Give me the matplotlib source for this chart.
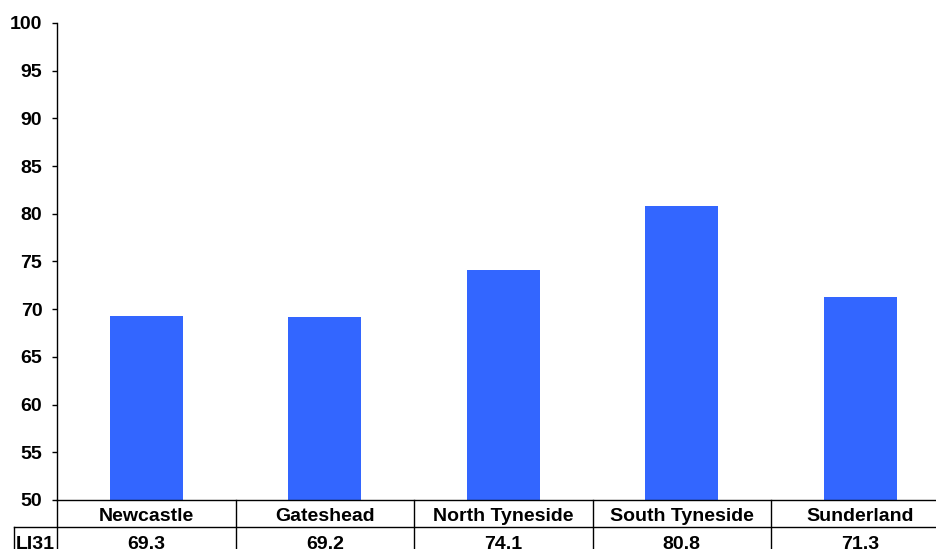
import matplotlib
matplotlib.use("Agg")
import matplotlib.pyplot as plt
from matplotlib.transforms import blended_transform_factory
from matplotlib.lines import Line2D

categories = ["Newcastle", "Gateshead", "North Tyneside", "South Tyneside", "Sunderland"]
values = [69.3, 69.2, 74.1, 80.8, 71.3]
series_name = "LI31"
yticks = [50, 55, 60, 65, 70, 75, 80, 85, 90, 95, 100]

plt.rcParams['font.family'] = ['Liberation Sans', 'DejaVu Sans']
plt.rcParams['font.weight'] = 'bold'

W, H = 937, 549
fig = plt.figure(figsize=(W / 100, H / 100), dpi=100)
ax = fig.add_axes([57 / W, 49 / H, 892.5 / W, 477 / H])

x = list(range(len(categories)))
ax.bar(x, values, width=0.41, color="#3366FF", bottom=0, zorder=2)
ax.set_xlim(-0.5, len(categories) - 0.5)
ax.set_ylim(50, 100)
ax.set_yticks(yticks)
ax.set_yticklabels([str(t) for t in yticks], fontsize=14, fontweight='bold')
ax.tick_params(axis='y', length=3.6, width=1, pad=7, direction='out')
ax.set_xticks([])
for s in ['top', 'right']:
    ax.spines[s].set_visible(False)
ax.spines['left'].set_linewidth(1)
ax.spines['bottom'].set_linewidth(1)

# Data table below the chart
ah = 477.0
r1 = -27 / ah
r2 = -70 / ah
tr = blended_transform_factory(ax.transData, ax.transAxes)
for i, (c, v) in enumerate(zip(categories, values)):
    ax.text(i, -21 / ah, c, transform=tr, ha='center', va='baseline',
            fontsize=14, fontweight='bold', clip_on=False)
    ax.text(i, -49 / ah, f"{v:.1f}", transform=tr, ha='center', va='baseline',
            fontsize=14, fontweight='bold', clip_on=False)
for b in range(len(categories) + 1):
    ax.add_line(Line2D([b - 0.5, b - 0.5], [0, r2], transform=tr,
                       color='black', lw=1, clip_on=False))
# horizontal line between rows, extending left to the row header
ax.add_line(Line2D([-43 / 892.5, 1], [r1, r1], transform=ax.transAxes,
                   color='black', lw=1, clip_on=False))
ax.add_line(Line2D([-43 / 892.5, -43 / 892.5], [r1, r2], transform=ax.transAxes,
                   color='black', lw=1, clip_on=False))
ax.text(-41 / 892.5, -49 / ah, series_name, transform=ax.transAxes, ha='left',
        va='baseline', fontsize=14, fontweight='bold', clip_on=False)

fig.savefig("out.png", dpi=100)
